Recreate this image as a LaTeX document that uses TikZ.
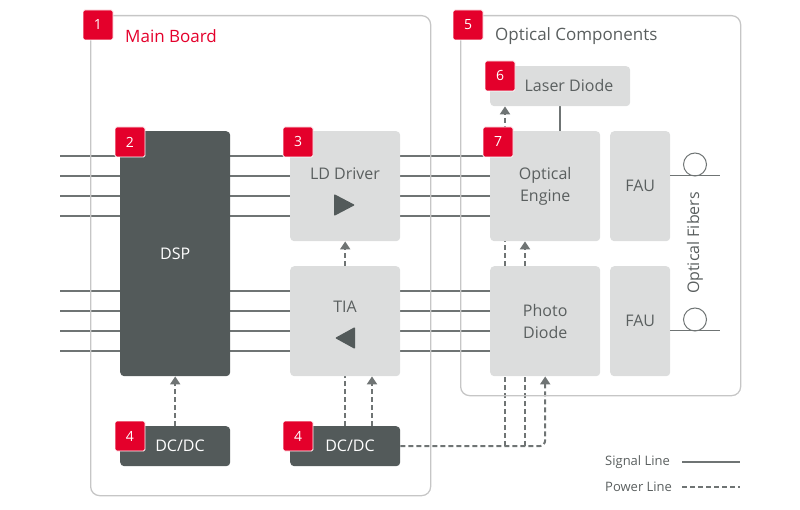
\documentclass[tikz,border=0pt]{standalone}
\usepackage{fontspec}
\setmainfont{Open Sans}
\usetikzlibrary{arrows.meta}

\definecolor{badgered}{HTML}{E4002B}
\definecolor{boxdark}{HTML}{535A5A}
\definecolor{boxlight}{HTML}{DCDDDD}
\definecolor{linegray}{HTML}{6F7474}
\definecolor{framegray}{HTML}{C6C6C6}
\definecolor{textgray}{HTML}{5A5F5F}

\pgfdeclarelayer{back}
\pgfsetlayers{back,main}

\tikzset{
  frame/.style={draw=framegray, line width=1.3pt, rounded corners=9pt, anchor=north west},
  darkbox/.style={fill=boxdark, rounded corners=4pt, anchor=north west, text=white, font=\fontsize{16}{19}\selectfont},
  lightbox/.style={fill=boxlight, rounded corners=4pt, anchor=north west, text=textgray, align=center, font=\fontsize{16}{22}\selectfont},
  badge/.style={fill=badgered, draw=white, line width=0.8pt, rounded corners=1.5pt, minimum size=30pt, inner sep=0pt, text=white, font=\fontsize{14}{14}\selectfont},
  boxtext/.style={text=textgray, inner sep=0pt, font=\fontsize{16}{19}\selectfont},
  legendtext/.style={text=textgray, inner sep=0pt, anchor=west, font=\fontsize{13}{15}\selectfont},
  signal/.style={draw=linegray, line width=2pt},
  power/.style={draw=linegray, line width=2pt, dash pattern=on 5pt off 3pt},
  powerarrow/.style={power, -{Triangle[length=8pt,width=10pt]}},
  fiber/.style={draw=linegray, line width=1pt},
}

\begin{document}
\begin{tikzpicture}[x=1pt, y=-1pt]
  \useasboundingbox (0,0) rectangle (800,510);

  % frames
  \node[frame, minimum width=340, minimum height=480] (mainboard) at (90,15) {};
  \node[frame, minimum width=280, minimum height=380] (optical) at (460,15) {};
  \node[badge] (b1) at (98,25) {1};
  \node[text=badgered, anchor=west, inner sep=0pt, font=\fontsize{17}{20}\selectfont] (mbtitle) at (125,36) {Main Board};
  \node[badge] (b5) at (468,25) {5};
  \node[boxtext, anchor=west, font=\fontsize{17}{20}\selectfont] (octitle) at (495,36) {Optical Components};

  % blocks
  \node[darkbox, minimum width=110, minimum height=245] (dsp) at (120,131) {DSP};
  \node[lightbox, minimum width=110, minimum height=110] (lddrv) at (290,131) {};
  \node[lightbox, minimum width=110, minimum height=110] (tia) at (290,266) {};
  \node[lightbox, minimum width=110, minimum height=110] (engine) at (490,131) {Optical\\Engine};
  \node[lightbox, minimum width=110, minimum height=110] (photo) at (490,266) {Photo\\Diode};
  \node[lightbox, minimum width=60, minimum height=110] (fau1) at (610,131) {FAU};
  \node[lightbox, minimum width=60, minimum height=110] (fau2) at (610,266) {FAU};
  \node[lightbox, minimum width=140, minimum height=40] (laser) at (490,66) {};
  \node[darkbox, minimum width=110, minimum height=40] (dcdc1) at (120,426) {};
  \node[darkbox, minimum width=110, minimum height=40] (dcdc2) at (290,426) {};

  \node[boxtext] (lddrvtext) at (345,174) {LD Driver};
  \node[boxtext] (tiatext) at (345,307) {TIA};
  \node[boxtext] (lasertext) at (569,86) {Laser Diode};
  \node[boxtext, text=white] (dcdc1text) at (180,446) {DC/DC};
  \node[boxtext, text=white] (dcdc2text) at (350,446) {DC/DC};

  \fill[boxdark, rounded corners=1pt] (334,194) -- (355,205) -- (334,216) -- cycle;
  \fill[boxdark, rounded corners=1pt] (355,327) -- (335,338) -- (355,349) -- cycle;

  \node[badge] (b2) at (130,142) {2};
  \node[badge] (b3) at (298,142) {3};
  \node[badge] (b7) at (498,142) {7};
  \node[badge] (b6) at (500,76) {6};
  \node[badge] (b4a) at (130,436) {4};
  \node[badge] (b4b) at (298,436) {4};

  % fibers
  \coordinate (f1) at (720,176);
  \coordinate (f2) at (720,331);
  \node[circle, fiber, minimum size=23, inner sep=0pt] (c1) at (695,164.5) {};
  \node[circle, fiber, minimum size=23, inner sep=0pt] (c2) at (695,319.5) {};
  \draw[fiber] (fau1.east |- f1) -- (f1);
  \draw[fiber] (fau2.east |- f2) -- (f2);
  \node[boxtext, rotate=90] (fibers) at (695,243) {Optical Fibers};

  % legend
  \node[legendtext] (sigtext) at (605,462) {Signal Line};
  \node[legendtext] (powtext) at (605,487) {Power Line};
  \coordinate (sig1) at (682,462);
  \coordinate (sig2) at (740,462);
  \coordinate (pow1) at (682,487);
  \coordinate (pow2) at (740,487);
  \draw[signal, line width=1.6pt] (sig1) -- (sig2);
  \draw[power, line width=1.6pt] (pow1) -- (pow2);

  \begin{pgfonlayer}{back}
    % signal lines
    \foreach \y in {156,176,196,216} {
      \coordinate (s\y) at (60,\y);
      \draw[signal] (s\y) -- (s\y -| engine.west);
    }
    \foreach \y in {291,311,331,351} {
      \coordinate (s\y) at (60,\y);
      \draw[signal] (s\y) -- (s\y -| photo.west);
    }
    \coordinate (lx) at (560,0);
    \draw[signal] (laser.south -| lx) -- (engine.north -| lx);

    % power lines
    \coordinate (p1) at (372,0);
    \coordinate (j1) at (505,446);
    \coordinate (j2) at (525,446);
    \draw[powerarrow] (dcdc1.north) -- (dsp.south);
    \draw[power] (dcdc2.north) -- (tia.south);
    \draw[powerarrow] (tia.north) -- (lddrv.south);
    \draw[powerarrow] (dcdc2.north -| p1) -- (tia.south -| p1);
    \draw[powerarrow, rounded corners=6pt] (dcdc2.east) -| (photo.south);
    \draw[power] (j1) -- (photo.south -| j1);
    \draw[power] (photo.north -| j1) -- (engine.south -| j1);
    \draw[powerarrow] (engine.north -| j1) -- (laser.south -| j1);
    \draw[power] (j2) -- (photo.south -| j2);
    \draw[powerarrow] (photo.north -| j2) -- (engine.south -| j2);
  \end{pgfonlayer}
\end{tikzpicture}
\end{document}
